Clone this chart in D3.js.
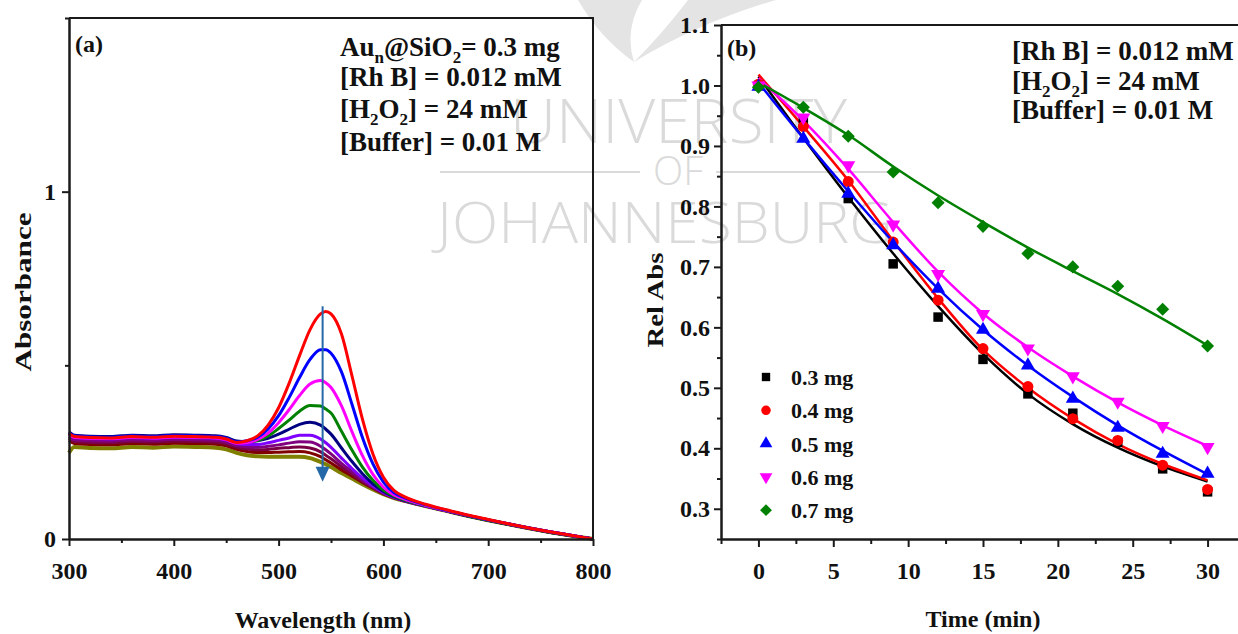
<!DOCTYPE html>
<html>
<head>
<meta charset="utf-8">
<script src="https://cdn.jsdelivr.net/npm/d3@7"></script>
<style>
  html, body { margin: 0; padding: 0; background: #fff; }
  svg { display: block; }
  text { font-family: "Liberation Serif", "Times New Roman", serif; font-weight: bold; fill: #111; }
  .wm text { font-family: "Open Sans", "DejaVu Sans", sans-serif; font-weight: 300; fill: #dadada; }
</style>
</head>
<body>
<svg id="chart" width="1238" height="634"></svg>
<script>
// ---------- Panel (a): UV-vis spectra recorded during degradation ----------
const wavelengths = [300,305,320,340,360,380,400,420,440,450,460,470,480,490,500,510,520,530,540,545,550,560,570,580,590,600,610,620,640,660,680,700,720,740,760,780,800];

const absRed     = [0.304,0.295,0.292,0.291,0.295,0.293,0.296,0.295,0.293,0.288,0.278,0.283,0.297,0.328,0.378,0.448,0.528,0.603,0.648,0.655,0.648,0.590,0.470,0.345,0.245,0.178,0.140,0.122,0.100,0.084,0.069,0.056,0.043,0.031,0.020,0.010,0.000];
const absBlue    = [0.306,0.297,0.294,0.293,0.297,0.295,0.298,0.297,0.295,0.290,0.280,0.283,0.293,0.317,0.355,0.407,0.465,0.517,0.545,0.545,0.535,0.481,0.388,0.292,0.216,0.164,0.134,0.119,0.099,0.083,0.068,0.055,0.043,0.031,0.020,0.010,0.000];
const absMagenta = [0.302,0.293,0.290,0.289,0.293,0.291,0.294,0.293,0.291,0.286,0.276,0.278,0.287,0.305,0.335,0.372,0.413,0.446,0.456,0.450,0.436,0.383,0.309,0.240,0.186,0.149,0.127,0.115,0.097,0.082,0.068,0.055,0.043,0.031,0.020,0.010,0.000];
const absGreen   = [0.304,0.295,0.292,0.291,0.295,0.293,0.296,0.295,0.293,0.288,0.278,0.279,0.284,0.297,0.318,0.342,0.368,0.384,0.383,0.374,0.363,0.310,0.256,0.207,0.169,0.141,0.124,0.113,0.096,0.082,0.067,0.054,0.042,0.030,0.019,0.009,0.000];
const absNavy    = [0.308,0.299,0.296,0.295,0.299,0.297,0.300,0.299,0.297,0.292,0.282,0.280,0.283,0.290,0.302,0.316,0.330,0.336,0.328,0.316,0.302,0.262,0.223,0.188,0.159,0.137,0.122,0.111,0.096,0.081,0.067,0.054,0.042,0.030,0.019,0.009,0.000];
const absViolet  = [0.301,0.292,0.289,0.288,0.292,0.290,0.293,0.292,0.290,0.285,0.275,0.272,0.272,0.277,0.284,0.291,0.299,0.299,0.288,0.277,0.264,0.233,0.203,0.176,0.153,0.134,0.120,0.111,0.095,0.082,0.068,0.055,0.043,0.031,0.020,0.010,0.000];
const absPurple  = [0.295,0.286,0.283,0.282,0.286,0.284,0.287,0.286,0.284,0.279,0.269,0.265,0.264,0.267,0.271,0.276,0.280,0.279,0.267,0.257,0.245,0.218,0.194,0.170,0.150,0.132,0.120,0.110,0.095,0.081,0.067,0.055,0.043,0.031,0.020,0.010,0.000];
const absPlum    = [0.290,0.281,0.278,0.277,0.281,0.279,0.282,0.281,0.279,0.274,0.264,0.259,0.257,0.258,0.261,0.263,0.265,0.262,0.251,0.241,0.231,0.208,0.187,0.166,0.148,0.131,0.119,0.110,0.095,0.081,0.067,0.054,0.042,0.030,0.019,0.009,0.000];
const absMaroon  = [0.284,0.275,0.272,0.271,0.275,0.273,0.276,0.275,0.273,0.268,0.258,0.252,0.249,0.249,0.250,0.251,0.252,0.248,0.237,0.228,0.219,0.199,0.181,0.163,0.146,0.130,0.119,0.110,0.095,0.081,0.067,0.054,0.042,0.030,0.019,0.009,0.000];
const absOlive   = [0.248,0.265,0.262,0.261,0.265,0.263,0.266,0.265,0.263,0.258,0.248,0.241,0.238,0.237,0.237,0.237,0.237,0.233,0.222,0.215,0.207,0.190,0.174,0.158,0.143,0.129,0.118,0.110,0.095,0.081,0.067,0.054,0.042,0.030,0.019,0.009,0.000];

// drawn bottom-most first so the early (high) spectra sit on top
const spectra = [
  { values: absOlive,   color: "#808000", width: 4 },
  { values: absMaroon,  color: "#800000", width: 3 },
  { values: absPlum,    color: "#7a0045", width: 3 },
  { values: absPurple,  color: "#800080", width: 3 },
  { values: absViolet,  color: "#8000ff", width: 3 },
  { values: absNavy,    color: "#000080", width: 3 },
  { values: absGreen,   color: "#008000", width: 3 },
  { values: absMagenta, color: "#ff00ff", width: 3 },
  { values: absBlue,    color: "#0000ff", width: 3 },
  { values: absRed,     color: "#ff0000", width: 3 }
];

const arrowWavelength = 542;
const arrowFrom = 0.67;
const arrowTo = 0.165;

const aTicksX = [300, 400, 500, 600, 700, 800];
const aMinorX = [350, 450, 550, 650, 750];
const aTicksY = [0, 1];
const aMinorY = [0.5, 1.5];

// ---------- Panel (b): relative absorbance vs time ----------
const times  = [0, 3, 6, 9, 12, 15, 18, 21, 24, 27, 30];
const rel03  = [1.000, 0.940, 0.813, 0.705, 0.617, 0.547, 0.490, 0.458, 0.410, 0.366, 0.328];
const rel04  = [1.002, 0.932, 0.841, 0.741, 0.645, 0.565, 0.502, 0.449, 0.413, 0.372, 0.332];
const rel05  = [0.998, 0.912, 0.821, 0.736, 0.664, 0.596, 0.537, 0.482, 0.434, 0.391, 0.358];
const rel06  = [1.000, 0.947, 0.868, 0.770, 0.688, 0.622, 0.565, 0.519, 0.477, 0.437, 0.402];
const rel07  = [0.997, 0.964, 0.916, 0.857, 0.806, 0.767, 0.722, 0.700, 0.668, 0.630, 0.569];
const fit03  = [1.015, 0.913, 0.815, 0.722, 0.635, 0.556, 0.490, 0.440, 0.401, 0.370, 0.345];
const fit04  = [1.018, 0.932, 0.843, 0.743, 0.648, 0.563, 0.500, 0.449, 0.407, 0.374, 0.347];
const fit05  = [1.005, 0.913, 0.825, 0.741, 0.664, 0.596, 0.537, 0.485, 0.438, 0.396, 0.357];
const fit06  = [1.012, 0.942, 0.862, 0.774, 0.692, 0.623, 0.567, 0.519, 0.476, 0.438, 0.404];
const fit07  = [1.005, 0.963, 0.918, 0.866, 0.818, 0.774, 0.732, 0.693, 0.655, 0.614, 0.570];
const massLabels = ["0.3 mg", "0.4 mg", "0.5 mg", "0.6 mg", "0.7 mg"];

const bTicksX = [0, 5, 10, 15, 20, 25, 30];
const bMinorX = [-2.5, 2.5, 7.5, 12.5, 17.5, 22.5, 27.5, 32.5];
const bTicksY = [0.3, 0.4, 0.5, 0.6, 0.7, 0.8, 0.9, 1.0, 1.1];
const bMinorY = [0.25, 0.35, 0.45, 0.55, 0.65, 0.75, 0.85, 0.95, 1.05];

const series = [
  { pts: rel03, fit: fit03, color: "#000000", shape: "square" },
  { pts: rel04, fit: fit04, color: "#ff0000", shape: "circle" },
  { pts: rel05, fit: fit05, color: "#0000ff", shape: "up" },
  { pts: rel06, fit: fit06, color: "#ff00ff", shape: "down" },
  { pts: rel07, fit: fit07, color: "#008000", shape: "diamond" }
];

// ---------- setup ----------
const svg = d3.select("#chart");
const AX = "#1a1a1a";

// faint university watermark behind both panels
const wm = svg.append("g").attr("class", "wm");
wm.append("path")
  .attr("d", "M578,0 Q600,38 634,62 Q624,30 642,0 Z M688,0 Q662,34 634,62 Q700,22 776,0 Z")
  .attr("fill", "#e4e4e4");
wm.append("text").attr("x", 510).attr("y", 143).attr("textLength", 337)
  .attr("lengthAdjust", "spacingAndGlyphs").style("font-size", "60px").text("UNIVERSITY");
wm.append("text").attr("x", 653).attr("y", 185).attr("textLength", 50)
  .attr("lengthAdjust", "spacingAndGlyphs").style("font-size", "40px").text("OF");
wm.append("line").attr("x1", 440).attr("x2", 640).attr("y1", 172).attr("y2", 172)
  .attr("stroke", "#dadada").attr("stroke-width", 2);
wm.append("line").attr("x1", 716).attr("x2", 900).attr("y1", 172).attr("y2", 172)
  .attr("stroke", "#dadada").attr("stroke-width", 2);
wm.append("text").attr("x", 437).attr("y", 243).attr("textLength", 456)
  .attr("lengthAdjust", "spacingAndGlyphs").style("font-size", "57px").text("JOHANNESBURG");

function styleAxis(g, fontSize) {
  g.select(".domain").attr("stroke", AX).attr("stroke-width", 2);
  g.selectAll(".tick line").attr("stroke", AX).attr("stroke-width", 2);
  g.selectAll(".tick text").style("font-size", fontSize + "px")
    .style("font-family", '"Liberation Serif", "Times New Roman", serif')
    .style("font-weight", "bold").attr("fill", "#111");
}

function richText(parent, x, y, parts, size, anchor) {
  const t = parent.append("text").attr("x", x).attr("y", y)
    .style("font-size", size + "px").attr("text-anchor", anchor || "start");
  const shift = Math.round(size * 0.26);
  let down = false;
  parts.forEach(p => {
    const sp = t.append("tspan").text(p.t);
    if (p.sub) {
      sp.style("font-size", Math.round(size * 0.62) + "px").attr("dy", down ? 0 : shift);
      down = true;
    } else {
      if (down) sp.attr("dy", -shift);
      down = false;
    }
  });
  return t;
}

// ================= Panel (a) =================
const xA = d3.scaleLinear().domain([300, 800]).range([69, 593]);
const yA = d3.scaleLinear().domain([0, 1.5]).range([539, 18]);
const gA = svg.append("g");

const lineA = d3.line()
  .x((d, i) => xA(wavelengths[i]))
  .y(d => yA(d))
  .curve(d3.curveMonotoneX);

gA.append("g").selectAll("path").data(spectra).join("path")
  .attr("d", s => lineA(s.values))
  .attr("fill", "none")
  .attr("stroke", s => s.color)
  .attr("stroke-width", s => s.width)
  .attr("stroke-linejoin", "round");

// arrow showing the decrease of the main band
const arrowColor = "#2468a8";
const ax0 = xA(arrowWavelength);
gA.append("line")
  .attr("x1", ax0).attr("x2", ax0)
  .attr("y1", yA(arrowFrom)).attr("y2", yA(arrowTo) - 12)
  .attr("stroke", arrowColor).attr("stroke-width", 2);
gA.append("path")
  .attr("d", `M${ax0 - 7},${yA(arrowTo) - 15} L${ax0 + 7},${yA(arrowTo) - 15} L${ax0},${yA(arrowTo)} Z`)
  .attr("fill", arrowColor);

// frame
gA.append("path")
  .attr("d", `M${xA(300)},${yA(1.5)} H${xA(800)} V${yA(0)}`)
  .attr("fill", "none").attr("stroke", AX).attr("stroke-width", 2);

const axA_bottom = gA.append("g").attr("transform", `translate(0,${yA(0)})`)
  .call(d3.axisBottom(xA).tickValues(aTicksX).tickSize(7).tickSizeOuter(0).tickPadding(16).tickFormat(d3.format("d")));
styleAxis(axA_bottom, 24);
const axA_bottomMinor = gA.append("g").attr("transform", `translate(0,${yA(0)})`)
  .call(d3.axisBottom(xA).tickValues(aMinorX).tickSize(4).tickSizeOuter(0).tickFormat(""));
styleAxis(axA_bottomMinor, 24);

const axA_left = gA.append("g").attr("transform", `translate(${xA(300)},0)`)
  .call(d3.axisLeft(yA).tickValues(aTicksY).tickSize(7).tickSizeOuter(0).tickPadding(6).tickFormat(d3.format("d")));
styleAxis(axA_left, 24);
const axA_leftMinor = gA.append("g").attr("transform", `translate(${xA(300)},0)`)
  .call(d3.axisLeft(yA).tickValues(aMinorY).tickSize(4).tickSizeOuter(0).tickFormat(""));
styleAxis(axA_leftMinor, 24);

gA.append("text").attr("x", 323).attr("y", 628).attr("text-anchor", "middle")
  .style("font-size", "24px").text("Wavelength (nm)");
gA.append("text").attr("transform", "translate(31,292) rotate(-90)")
  .attr("text-anchor", "middle").attr("textLength", 159).attr("lengthAdjust", "spacingAndGlyphs")
  .style("font-size", "24px").text("Absorbance");

gA.append("text").attr("x", 75).attr("y", 52).style("font-size", "24px").text("(a)");

richText(gA, 340, 56, [{t: "Au"}, {t: "n", sub: true}, {t: "@SiO"}, {t: "2", sub: true}, {t: "= 0.3 mg"}], 27);
richText(gA, 340, 86, [{t: "[Rh B] = 0.012 mM"}], 27);
richText(gA, 340, 118, [{t: "[H"}, {t: "2", sub: true}, {t: "O"}, {t: "2", sub: true}, {t: "] = 24 mM"}], 27);
richText(gA, 340, 151, [{t: "[Buffer] = 0.01 M"}], 27);

// ================= Panel (b) =================
const xB = d3.scaleLinear().domain([-2.5, 32.5]).range([721, 1245]);
const yB = d3.scaleLinear().domain([0.25, 1.1]).range([539, 25]);
const gB = svg.append("g");

const lineB = d3.line()
  .x((d, i) => xB(times[i]))
  .y(d => yB(d))
  .curve(d3.curveMonotoneX);

gB.append("g").selectAll("path").data(series).join("path")
  .attr("d", s => lineB(s.fit))
  .attr("fill", "none")
  .attr("stroke", s => s.color)
  .attr("stroke-width", 2.5);

function symbolPath(shape, size) {
  if (shape === "square") return d3.symbol(d3.symbolSquare, size)();
  if (shape === "circle") return d3.symbol(d3.symbolCircle, size)();
  if (shape === "diamond") return d3.symbol(d3.symbolSquare, size)();
  return d3.symbol(d3.symbolTriangle, size)();
}
function symbolRotate(shape) {
  if (shape === "down") return " rotate(180)";
  if (shape === "diamond") return " rotate(45)";
  return "";
}

series.forEach(s => {
  gB.append("g").selectAll("path").data(s.pts).join("path")
    .attr("transform", (d, i) => `translate(${xB(times[i])},${yB(d)})${symbolRotate(s.shape)}`)
    .attr("d", symbolPath(s.shape, s.shape === "square" ? 90 : s.shape === "circle" ? 95 : 85))
    .attr("fill", s.color);
});

// frame (top edge; the right edge lies beyond the page)
gB.append("line").attr("x1", xB(-2.5)).attr("x2", 1238).attr("y1", yB(1.1)).attr("y2", yB(1.1))
  .attr("stroke", AX).attr("stroke-width", 2);

const axB_bottom = gB.append("g").attr("transform", `translate(0,${yB(0.25)})`)
  .call(d3.axisBottom(xB).tickValues(bTicksX).tickSize(8).tickSizeOuter(0).tickPadding(15).tickFormat(d3.format("d")));
styleAxis(axB_bottom, 24);
const axB_bottomMinor = gB.append("g").attr("transform", `translate(0,${yB(0.25)})`)
  .call(d3.axisBottom(xB).tickValues(bMinorX).tickSize(5).tickSizeOuter(0).tickFormat(""));
styleAxis(axB_bottomMinor, 24);

const axB_left = gB.append("g").attr("transform", `translate(${xB(-2.5)},0)`)
  .call(d3.axisLeft(yB).tickValues(bTicksY).tickSize(7).tickSizeOuter(0).tickPadding(4).tickFormat(d3.format(".1f")));
styleAxis(axB_left, 24);
const axB_leftMinor = gB.append("g").attr("transform", `translate(${xB(-2.5)},0)`)
  .call(d3.axisLeft(yB).tickValues(bMinorY).tickSize(4).tickSizeOuter(0).tickFormat(""));
styleAxis(axB_leftMinor, 24);

gB.append("text").attr("x", 983).attr("y", 627).attr("text-anchor", "middle")
  .style("font-size", "24px").text("Time (min)");
gB.append("text").attr("transform", "translate(663,300) rotate(-90)")
  .attr("text-anchor", "middle").attr("textLength", 95).attr("lengthAdjust", "spacingAndGlyphs")
  .style("font-size", "24px").text("Rel Abs");

gB.append("text").attr("x", 727).attr("y", 56).style("font-size", "24px").text("(b)");

richText(gB, 1012, 60, [{t: "[Rh B] = 0.012 mM"}], 27);
richText(gB, 1012, 90, [{t: "[H"}, {t: "2", sub: true}, {t: "O"}, {t: "2", sub: true}, {t: "] = 24 mM"}], 27);
richText(gB, 1012, 119, [{t: "[Buffer] = 0.01 M"}], 27);

// legend
const legend = gB.append("g");
series.forEach((s, i) => {
  const ly = 377 + i * 33.3;
  legend.append("path")
    .attr("transform", `translate(766,${ly})${symbolRotate(s.shape)}`)
    .attr("d", symbolPath(s.shape, 70))
    .attr("fill", s.color);
  legend.append("text").attr("x", 791).attr("y", ly + 8)
    .style("font-size", "22px").text(massLabels[i]);
});
</script>
</body>
</html>
